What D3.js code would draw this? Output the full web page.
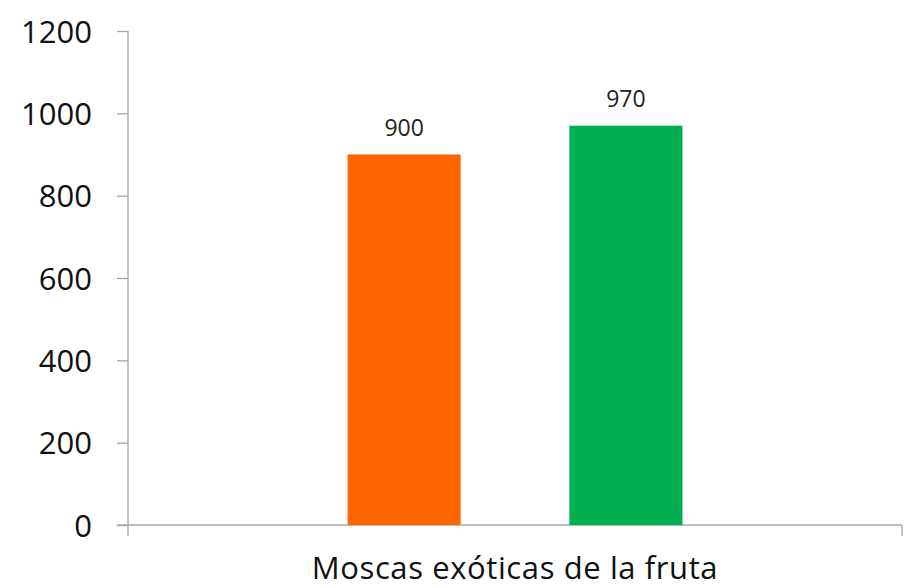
<!DOCTYPE html>
<html>
<head>
<meta charset="utf-8">
<script src="https://cdn.jsdelivr.net/npm/d3@7"></script>
<style>
  body { margin: 0; background: #fff; }
  svg text { font-family: "Open Sans", sans-serif; }
</style>
</head>
<body>
<svg id="chart"></svg>
<script>
// Datos
const categorias = ["Moscas exóticas de la fruta"];
const series = ["Serie 1", "Serie 2"];
const valores = [900, 970];
const colores = ["#FF6600", "#00B050"];
const ticks_y = [0, 200, 400, 600, 800, 1000, 1200];

const WIDTH = 922;
const HEIGHT = 588;
const MARGIN = { top: 31, bottom: 63, left: 128, right: 20 };

const svg = d3.select("svg#chart")
    .attr("width", WIDTH)
    .attr("height", HEIGHT);

const y = d3.scaleLinear()
    .domain([0, 1200])
    .range([HEIGHT - MARGIN.bottom, MARGIN.top]);

const x0 = d3.scaleBand()
    .domain(categorias)
    .range([MARGIN.left, 902]);

const x1 = d3.scaleBand()
    .domain(series)
    .range([0, x0.bandwidth()])
    .paddingInner(0.49)
    .paddingOuter(0.99);

// Eje Y
const ejeY = svg.append("g")
    .attr("transform", `translate(${MARGIN.left},0)`)
    .call(d3.axisLeft(y)
            .tickValues(ticks_y)
            .tickFormat(d3.format("d"))
            .tickSize(11)
            .tickPadding(25));

ejeY.attr("font-family", null);
ejeY.select(".domain").attr("stroke", "#a6a6a6").attr("stroke-width", 1.3)
    .attr("d", `M0,${y(1200)}V${y(0) + 11}`);
ejeY.selectAll(".tick line").attr("stroke", "#a6a6a6").attr("stroke-width", 1.3);
ejeY.selectAll(".tick text")
    .attr("font-size", 31)
    .attr("fill", "#111")
    .attr("dy", "0.36em");

// Eje X
const base = y(0);
svg.append("line")
    .attr("x1", MARGIN.left - 11).attr("x2", 902)
    .attr("y1", base).attr("y2", base)
    .attr("stroke", "#a6a6a6").attr("stroke-width", 1.3);

svg.append("line")
    .attr("x1", 902).attr("x2", 902)
    .attr("y1", base).attr("y2", base + 11)
    .attr("stroke", "#a6a6a6").attr("stroke-width", 1.3);

svg.selectAll("text.categoria")
    .data(categorias)
    .join("text")
    .attr("class", "categoria")
    .attr("x", d => x0(d) + x0.bandwidth() / 2)
    .attr("y", 579)
    .attr("text-anchor", "middle")
    .attr("font-size", 31)
    .attr("letter-spacing", 0.6)
    .attr("fill", "#111")
    .text(d => d);

// Barras
const grupo = svg.append("g")
    .attr("transform", `translate(${x0(categorias[0])},0)`);

grupo.selectAll("rect.barra")
    .data(valores)
    .join("rect")
    .attr("class", "barra")
    .attr("x", (d, i) => x1(series[i]))
    .attr("y", d => y(d))
    .attr("width", x1.bandwidth())
    .attr("height", d => y(0) - y(d))
    .attr("fill", (d, i) => colores[i]);

grupo.selectAll("text.etiqueta")
    .data(valores)
    .join("text")
    .attr("class", "etiqueta")
    .attr("x", (d, i) => x1(series[i]) + x1.bandwidth() / 2)
    .attr("y", d => y(d) - 19)
    .attr("text-anchor", "middle")
    .attr("font-size", 23)
    .attr("fill", "#222")
    .text(d => d);
</script>
</body>
</html>
